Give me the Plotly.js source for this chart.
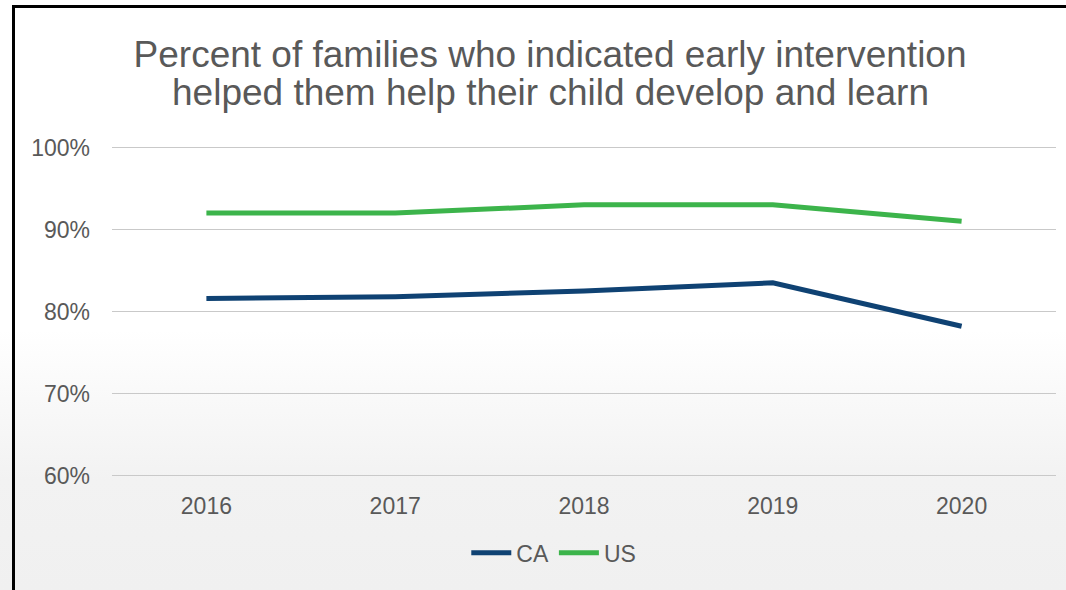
<!DOCTYPE html>
<html>
<head>
<meta charset="utf-8">
<script src="https://cdn.plot.ly/plotly-3.0.1.min.js"></script>
<style>
  html, body { margin: 0; padding: 0; }
  body {
    width: 1066px; height: 590px; overflow: hidden;
    background: linear-gradient(to bottom, #ffffff 0px, #ffffff 330px, #f2f2f2 480px, #f0f0f0 590px);
  }
  #frame {
    position: absolute; left: 12px; top: 5px; width: 1060px; height: 600px;
    border-left: 3px solid #000; border-top: 3px solid #000; box-sizing: border-box;
    pointer-events: none; z-index: 5;
  }
  #chart { position: absolute; left: 0; top: 0; width: 1066px; height: 590px; }
</style>
</head>
<body>
<div id="chart"></div>
<div id="frame"></div>
<script>
const years = ["2016", "2017", "2018", "2019", "2020"];
const caValues = [0.816, 0.818, 0.825, 0.835, 0.782];
const usValues = [0.92, 0.92, 0.93, 0.93, 0.91];
const yTickValues = [0.6, 0.7, 0.8, 0.9, 1.0];
const yTickLabels = ["60%", "70%", "80%", "90%", "100%"];
const titleLine1 = "Percent of families who indicated early intervention";
const titleLine2 = "helped them help their child develop and learn";

const traces = [
  { x: years, y: caValues, name: "CA", type: "scatter", mode: "lines",
    line: { color: "#0f4273", width: 5 } },
  { x: years, y: usValues, name: "US", type: "scatter", mode: "lines",
    line: { color: "#3cb44b", width: 5 } }
];

const titleFont = { size: 37, color: "#595959", family: "Liberation Sans, Arial, sans-serif" };

const layout = {
  width: 1066, height: 590,
  paper_bgcolor: "rgba(0,0,0,0)", plot_bgcolor: "rgba(0,0,0,0)",
  margin: { l: 112, r: 10, t: 145, b: 112 },
  font: { family: "Liberation Sans, Arial, sans-serif", color: "#595959" },
  title: {
    text: titleLine1,
    font: titleFont,
    x: 0.516, xanchor: "center", xref: "container",
    y: 0.909, yanchor: "middle", yref: "container"
  },
  annotations: [{
    text: titleLine2, font: titleFont, showarrow: false,
    xref: "paper", yref: "paper", x: 0.464, y: 1.159,
    xanchor: "center", yanchor: "middle"
  }],
  xaxis: {
    type: "category", range: [-0.5, 4.5],
    showgrid: false, zeroline: false, showline: false, ticks: "",
    tickfont: { size: 23, color: "#595959" }, ticklabelstandoff: 12
  },
  yaxis: {
    range: [0.597, 1.003], tickvals: yTickValues, ticktext: yTickLabels,
    showgrid: true, gridcolor: "#c9c9c9", gridwidth: 1.5,
    zeroline: false, showline: false, ticks: "",
    tickfont: { size: 23, color: "#595959" }, ticklabelstandoff: 21
  },
  showlegend: true,
  legend: {
    orientation: "h", x: 0.468, xanchor: "center", xref: "paper",
    y: -0.225, yanchor: "middle", yref: "paper",
    font: { size: 23, color: "#595959" },
    bgcolor: "rgba(0,0,0,0)", itemwidth: 40, tracegroupgap: 0
  }
};

Plotly.newPlot("chart", traces, layout, { displayModeBar: false, staticPlot: true });
</script>
</body>
</html>
